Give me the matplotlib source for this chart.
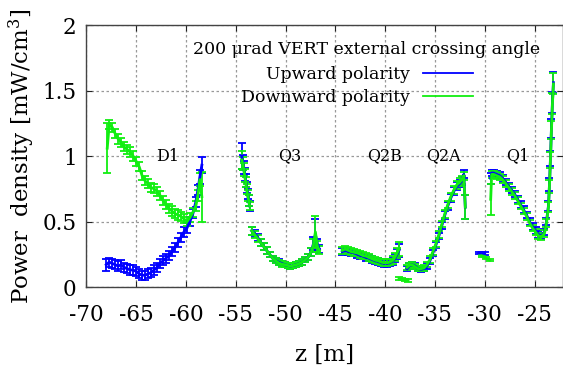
import matplotlib
matplotlib.use("Agg")
import matplotlib.pyplot as plt
from matplotlib.lines import Line2D

plt.rcParams["font.family"] = "DejaVu Serif"
plt.rcParams["mathtext.fontset"] = "dejavuserif"
plt.rcParams["axes.unicode_minus"] = False

UP_COLOR = "#0000ff"
DOWN_COLOR = "#11ee11"

# ---- D1 ----
z_d1_up = [-68.0, -67.7, -67.4, -67.1, -66.8, -66.5, -66.2, -65.9, -65.6, -65.3, -65.0, -64.7,
           -64.4, -64.1, -63.8, -63.5, -63.2, -62.9, -62.6, -62.3, -62.0, -61.7, -61.4, -61.1,
           -60.8, -60.5, -60.2, -59.9, -59.6, -59.3, -59.0, -58.8, -58.6, -58.4]
y_d1_up = [0.17, 0.19, 0.18, 0.17, 0.16, 0.17, 0.15, 0.14, 0.13, 0.13, 0.12, 0.10,
           0.09, 0.09, 0.10, 0.11, 0.13, 0.15, 0.18, 0.20, 0.22, 0.24, 0.27, 0.30,
           0.34, 0.38, 0.42, 0.45, 0.50, 0.56, 0.65, 0.74, 0.84, 0.93]
err_d1_up = [0.045, 0.035, 0.035, 0.035, 0.035, 0.035, 0.035, 0.035, 0.035, 0.035, 0.035, 0.035,
             0.035, 0.035, 0.035, 0.035, 0.035, 0.035, 0.035, 0.035, 0.035, 0.035, 0.035, 0.035,
             0.035, 0.035, 0.035, 0.035, 0.035, 0.035, 0.04, 0.04, 0.05, 0.06]

z_d1_down = [-67.9, -67.7, -67.4, -67.1, -66.8, -66.5, -66.2, -65.9, -65.6, -65.3, -65.0, -64.7,
             -64.4, -64.1, -63.8, -63.5, -63.2, -62.9, -62.6, -62.3, -62.0, -61.7, -61.4, -61.1,
             -60.8, -60.5, -60.2, -59.9, -59.6, -59.3, -59.0, -58.8, -58.6, -58.4]
y_d1_down = [1.06, 1.24, 1.22, 1.17, 1.13, 1.10, 1.07, 1.05, 1.03, 1.00, 0.96, 0.92,
             0.85, 0.81, 0.79, 0.76, 0.75, 0.73, 0.70, 0.66, 0.63, 0.60, 0.58, 0.56,
             0.55, 0.54, 0.52, 0.50, 0.53, 0.57, 0.62, 0.70, 0.82, 0.69]
err_d1_down = [0.19, 0.035, 0.035, 0.035, 0.035, 0.035, 0.035, 0.035, 0.035, 0.035, 0.035, 0.035,
               0.035, 0.035, 0.035, 0.035, 0.035, 0.035, 0.035, 0.035, 0.035, 0.035, 0.035, 0.035,
               0.035, 0.035, 0.035, 0.035, 0.035, 0.035, 0.04, 0.04, 0.05, 0.19]

# ---- Q3 ----
z_q3a = [-54.4, -54.3, -54.2, -54.1, -54.0, -53.9, -53.8, -53.7, -53.6]
y_q3a_up = [1.00, 0.95, 0.91, 0.86, 0.81, 0.76, 0.71, 0.66, 0.62]
err_q3a_up = [0.10, 0.06, 0.05, 0.05, 0.05, 0.04, 0.04, 0.04, 0.04]
y_q3a_down = [0.97, 0.94, 0.90, 0.85, 0.80, 0.75, 0.70, 0.66, 0.62]
err_q3a_down = [0.07, 0.05, 0.05, 0.05, 0.04, 0.04, 0.04, 0.04, 0.03]

z_q3b = [-53.4, -53.1, -52.8, -52.5, -52.2, -51.9, -51.6, -51.3, -51.0, -50.7, -50.4, -50.1,
         -49.8, -49.5, -49.2, -48.9, -48.6, -48.3, -48.0, -47.7, -47.4, -47.2, -47.0, -46.8, -46.6]
y_q3b_up = [0.43, 0.41, 0.38, 0.34, 0.31, 0.28, 0.25, 0.22, 0.20, 0.19, 0.18, 0.17,
            0.165, 0.16, 0.165, 0.17, 0.18, 0.19, 0.21, 0.23, 0.27, 0.33, 0.40, 0.33, 0.29]
y_q3b_down = [0.43, 0.40, 0.37, 0.34, 0.31, 0.28, 0.25, 0.22, 0.20, 0.185, 0.175, 0.17,
              0.165, 0.16, 0.165, 0.17, 0.18, 0.19, 0.21, 0.23, 0.27, 0.32, 0.42, 0.31, 0.28]
err_q3b = [0.03, 0.025, 0.025, 0.025, 0.025, 0.025, 0.02, 0.02, 0.02, 0.02, 0.02, 0.02,
           0.02, 0.02, 0.02, 0.02, 0.02, 0.02, 0.02, 0.025, 0.03, 0.05, 0.12, 0.04, 0.03]

# ---- Q2B ----
z_q2b = [-44.3, -44.0, -43.7, -43.4, -43.1, -42.8, -42.5, -42.2, -41.9, -41.6, -41.3, -41.0,
         -40.7, -40.4, -40.1, -39.8, -39.5, -39.2, -39.0, -38.8, -38.6]
y_q2b_up = [0.27, 0.28, 0.27, 0.265, 0.26, 0.25, 0.24, 0.235, 0.225, 0.22, 0.21, 0.20,
            0.195, 0.185, 0.18, 0.18, 0.185, 0.20, 0.22, 0.25, 0.28]
y_q2b_down = [0.28, 0.29, 0.28, 0.27, 0.265, 0.26, 0.25, 0.24, 0.235, 0.225, 0.215, 0.205,
              0.20, 0.19, 0.185, 0.185, 0.19, 0.205, 0.23, 0.26, 0.29]
err_q2b = [0.025, 0.025, 0.025, 0.025, 0.025, 0.025, 0.025, 0.025, 0.025, 0.025, 0.025, 0.025,
           0.025, 0.025, 0.025, 0.025, 0.025, 0.03, 0.03, 0.04, 0.05]

z_low_down = [-38.6, -38.3, -38.0, -37.7]
y_low_down = [0.065, 0.06, 0.055, 0.05]
err_low_down = [0.008, 0.008, 0.008, 0.008]

# ---- Q2A ----
z_q2a = [-37.8, -37.6, -37.3, -37.0, -36.7, -36.4, -36.1, -35.8, -35.5, -35.2, -34.9,
         -34.6, -34.3, -34.0, -33.7, -33.4, -33.1, -32.8, -32.5, -32.3, -32.1, -31.95]
y_q2a_up = [0.14, 0.16, 0.17, 0.16, 0.14, 0.135, 0.14, 0.16, 0.20, 0.26, 0.32,
            0.39, 0.47, 0.55, 0.62, 0.68, 0.73, 0.77, 0.79, 0.81, 0.86, 0.61]
y_q2a_down = [0.15, 0.165, 0.17, 0.155, 0.14, 0.14, 0.145, 0.17, 0.21, 0.27, 0.33,
              0.40, 0.48, 0.56, 0.63, 0.69, 0.74, 0.78, 0.80, 0.82, 0.85, 0.61]
err_q2a = [0.02, 0.02, 0.02, 0.02, 0.02, 0.02, 0.02, 0.02, 0.025, 0.025, 0.025,
           0.025, 0.025, 0.03, 0.03, 0.03, 0.03, 0.03, 0.03, 0.03, 0.03, 0.09]

# ---- Q1 ----
z_q1low_up = [-30.6, -30.3, -30.0]
y_q1low_up = [0.26, 0.26, 0.255]
z_q1low_down = [-30.3, -29.9, -29.5]
y_q1low_down = [0.235, 0.22, 0.205]
err_q1low = [0.008, 0.008, 0.01]

z_q1 = [-29.4, -29.3, -29.1, -28.8, -28.5, -28.2, -27.9, -27.6, -27.3, -27.0, -26.7, -26.4,
        -26.1, -25.8, -25.5, -25.2, -24.9, -24.6, -24.3, -24.0, -23.8, -23.6, -23.5, -23.4,
        -23.3, -23.2, -23.1]
y_q1_up = [0.83, 0.87, 0.87, 0.86, 0.85, 0.83, 0.80, 0.77, 0.74, 0.71, 0.67, 0.63,
           0.59, 0.55, 0.50, 0.46, 0.43, 0.40, 0.39, 0.42, 0.50, 0.62, 0.78, 0.98,
           1.21, 1.41, 1.56]
err_q1_up = [0.04, 0.025, 0.025, 0.025, 0.025, 0.025, 0.025, 0.025, 0.025, 0.025, 0.025, 0.025,
             0.025, 0.025, 0.025, 0.025, 0.025, 0.025, 0.025, 0.025, 0.03, 0.04, 0.05, 0.06,
             0.07, 0.08, 0.08]
y_q1_down = [0.67, 0.86, 0.86, 0.85, 0.84, 0.82, 0.79, 0.76, 0.73, 0.70, 0.66, 0.62,
             0.58, 0.54, 0.49, 0.45, 0.42, 0.39, 0.385, 0.41, 0.49, 0.61, 0.77, 0.97,
             1.20, 1.40, 1.55]
err_q1_down = [0.12, 0.025, 0.025, 0.025, 0.025, 0.025, 0.025, 0.025, 0.025, 0.025, 0.025, 0.025,
               0.025, 0.025, 0.025, 0.025, 0.025, 0.025, 0.025, 0.025, 0.03, 0.04, 0.05, 0.06,
               0.07, 0.08, 0.08]

up_segments = [
    (z_d1_up, y_d1_up, err_d1_up),
    (z_q3a, y_q3a_up, err_q3a_up),
    (z_q3b, y_q3b_up, err_q3b),
    (z_q2b, y_q2b_up, err_q2b),
    (z_q2a, y_q2a_up, err_q2a),
    (z_q1low_up, y_q1low_up, err_q1low),
    (z_q1, y_q1_up, err_q1_up),
]
down_segments = [
    (z_d1_down, y_d1_down, err_d1_down),
    (z_q3a, y_q3a_down, err_q3a_down),
    (z_q3b, y_q3b_down, err_q3b),
    (z_q2b, y_q2b_down, err_q2b),
    (z_low_down, y_low_down, err_low_down),
    (z_q2a, y_q2a_down, err_q2a),
    (z_q1low_down, y_q1low_down, err_q1low),
    (z_q1, y_q1_down, err_q1_down),
]

magnet_names = ["D1", "Q3", "Q2B", "Q2A", "Q1"]
magnet_z = [-61.8, -49.6, -40.1, -34.1, -26.7]

x_ticks = [-70, -65, -60, -55, -50, -45, -40, -35, -30, -25]
y_ticks = [0, 0.5, 1, 1.5, 2]
y_tick_labels = ["0", "0.5", "1", "1.5", "2"]


def draw_segments(ax, segments, color):
    for z, y, err in segments:
        ax.errorbar(z, y, yerr=err, color=color, linewidth=2.0, elinewidth=1.3,
                    capsize=3, capthick=1.3)


fig = plt.figure(figsize=(5.63, 3.70), dpi=100)
ax = fig.add_axes([0.1533, 0.2243, 0.8467, 0.7081])

draw_segments(ax, up_segments, UP_COLOR)
draw_segments(ax, down_segments, DOWN_COLOR)

ax.set_xlim(-70, -22.14)
ax.set_ylim(0, 2)
ax.set_xticks(x_ticks)
ax.set_yticks(y_ticks)
ax.set_yticklabels(y_tick_labels)
ax.tick_params(direction="in", length=4, labelsize=15.5, top=True, right=True,
               colors="#222222", labelcolor="black")
ax.tick_params(axis="x", pad=12)
ax.tick_params(axis="y", pad=7)
ax.grid(True, color="#999999", linestyle=(0, (2, 2)), linewidth=0.9)
for s in ax.spines.values():
    s.set_color("#444444")
    s.set_linewidth(1.0)

ax.set_xlabel("z [m]", fontsize=16.5, labelpad=13)
ax.set_ylabel("Power  density [mW/cm$^3$]", fontsize=16.5, labelpad=4)

for name, z in zip(magnet_names, magnet_z):
    ax.text(z, 1.0, name, fontsize=11.5, ha="center", va="center")

ax.text(-41.87, 1.81, "200 μrad VERT external crossing angle", fontsize=12.5,
        ha="center", va="center")

handles = [Line2D([], [], color=UP_COLOR, linewidth=1.3),
           Line2D([], [], color=DOWN_COLOR, linewidth=1.3)]
ax.legend(handles, ["Upward polarity", "Downward polarity"], loc="upper right",
          bbox_to_anchor=(0.811, 0.845), frameon=False, markerfirst=False,
          fontsize=12.5, borderpad=0, borderaxespad=0, handlelength=2.9,
          handletextpad=0.7, labelspacing=0.35)

fig.savefig("out.png", dpi=100)
